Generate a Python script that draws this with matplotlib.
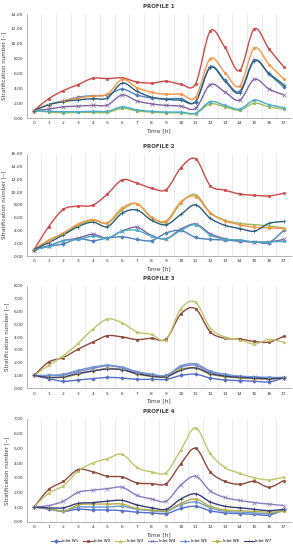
import numpy as np
import matplotlib
matplotlib.use("Agg")
import matplotlib.pyplot as plt
from matplotlib.path import Path
from matplotlib.patches import PathPatch

hours = list(range(18))
series_names = ["Inlet W1", "Inlet W2", "Inlet W3", "Inlet W4", "Inlet W5", "Inlet W6", "Inlet W7"]

# Profile 1
p1_w1 = [1.0, 1.8, 2.3, 2.8, 3.0, 3.1, 3.9, 3.1, 2.7, 2.6, 2.6, 2.2, 6.9, 5.1, 3.6, 7.8, 5.9, 4.2]
p1_w2 = [1.0, 2.6, 3.7, 4.5, 5.35, 5.3, 5.4, 4.85, 4.7, 4.95, 4.55, 4.6, 11.7, 9.5, 6.4, 12.0, 9.3, 6.9]
p1_w3 = [1.0, 0.8, 0.7, 0.75, 0.75, 0.75, 1.3, 0.95, 0.8, 0.7, 0.7, 0.6, 1.9, 1.5, 1.05, 2.0, 1.5, 1.2]
p1_w4 = [1.0, 1.2, 1.5, 1.6, 1.7, 1.75, 3.1, 2.3, 1.9, 1.7, 1.6, 1.3, 4.5, 3.5, 2.4, 5.2, 3.9, 3.1]
p1_w5 = [1.0, 0.9, 0.85, 0.85, 0.9, 0.9, 1.5, 1.1, 0.9, 0.8, 0.8, 0.65, 2.2, 1.7, 1.2, 2.4, 1.8, 1.4]
p1_w6 = [1.0, 1.8, 2.3, 2.7, 2.95, 3.2, 5.2, 4.1, 3.45, 3.2, 3.2, 2.8, 8.0, 6.1, 4.3, 9.4, 7.2, 5.3]
p1_w7 = [1.0, 1.8, 2.2, 2.45, 2.6, 2.7, 4.7, 3.6, 2.8, 2.5, 2.4, 2.2, 6.8, 5.0, 3.4, 7.7, 6.0, 4.5]

# Profile 2
p2_w1 = [1.0, 1.5, 1.9, 2.7, 2.4, 2.8, 3.0, 2.6, 2.4, 3.6, 4.0, 2.9, 2.6, 2.5, 2.3, 2.2, 2.1, 4.0]
p2_w2 = [1.0, 4.6, 7.3, 7.8, 7.95, 9.7, 11.9, 11.4, 10.6, 10.4, 13.8, 15.2, 11.0, 10.3, 9.7, 9.5, 9.4, 9.8]
p2_w3 = [1.0, 2.4, 3.5, 4.8, 5.6, 5.1, 7.2, 8.2, 6.1, 5.3, 8.3, 9.6, 6.8, 5.6, 5.1, 4.9, 4.7, 4.4]
p2_w4 = [1.0, 1.6, 2.4, 2.8, 3.4, 2.8, 3.9, 4.5, 3.2, 2.7, 4.2, 5.0, 3.5, 2.7, 2.4, 2.2, 2.2, 2.6]
p2_w5 = [1.0, 1.5, 2.4, 2.6, 3.1, 2.8, 3.9, 4.0, 3.1, 2.7, 4.0, 4.9, 3.3, 2.6, 2.5, 2.2, 2.2, 2.3]
p2_w6 = [1.0, 2.5, 3.6, 5.0, 5.7, 5.2, 7.5, 8.2, 6.0, 5.5, 8.5, 9.3, 6.7, 5.5, 4.9, 4.5, 4.4, 4.3]
p2_w7 = [1.0, 2.1, 3.3, 4.6, 5.3, 4.6, 6.7, 7.2, 5.6, 4.9, 6.5, 8.0, 5.9, 4.8, 4.3, 3.9, 5.1, 5.4]

# Profile 3
p3_w1 = [1.0, 0.75, 0.55, 0.65, 0.75, 0.85, 0.8, 0.7, 0.7, 0.7, 1.0, 1.1, 0.8, 0.65, 0.6, 0.55, 0.5, 0.8]
p3_w2 = [1.0, 2.05, 2.4, 3.05, 3.6, 4.1, 4.0, 3.8, 3.9, 3.85, 5.8, 6.2, 4.4, 3.9, 3.85, 3.65, 3.6, 4.05]
p3_w3 = [1.0, 1.8, 2.55, 3.5, 4.6, 5.4, 5.1, 4.4, 4.2, 3.8, 6.2, 6.7, 4.7, 4.0, 3.8, 3.45, 3.8, 3.6]
p3_w4 = [1.0, 1.0, 1.05, 1.3, 1.55, 1.75, 1.6, 1.25, 1.05, 1.0, 1.65, 1.8, 1.25, 1.0, 0.9, 0.85, 0.8, 0.8]
p3_w5 = [1.0, 1.0, 1.1, 1.4, 1.65, 1.8, 1.65, 1.3, 1.1, 1.0, 1.75, 1.9, 1.35, 1.1, 0.95, 0.9, 0.85, 0.85]
p3_w6 = [1.0, 0.85, 0.85, 1.1, 1.35, 1.55, 1.45, 1.1, 0.95, 0.9, 1.5, 1.55, 1.1, 0.9, 0.8, 0.75, 0.7, 0.8]
p3_w7 = [1.0, 0.85, 0.9, 1.15, 1.35, 1.5, 1.45, 1.15, 0.95, 0.9, 1.4, 1.6, 1.15, 0.95, 0.85, 0.8, 0.75, 0.8]

# Profile 4
p4_w1 = [1.0, 0.85, 0.7, 0.85, 0.8, 0.8, 0.75, 0.65, 0.6, 0.55, 0.9, 1.05, 0.75, 0.6, 0.55, 0.5, 0.45, 0.8]
p4_w2 = [1.0, 2.2, 2.75, 3.55, 3.4, 3.1, 3.05, 2.65, 2.6, 2.6, 3.95, 5.0, 3.4, 2.75, 2.55, 2.75, 2.35, 2.8]
p4_w3 = [1.0, 1.95, 2.45, 3.45, 4.0, 4.3, 4.6, 3.7, 3.4, 3.35, 4.9, 6.4, 4.65, 3.7, 3.3, 3.0, 2.85, 3.05]
p4_w4 = [1.0, 1.1, 1.4, 2.0, 2.15, 2.25, 2.35, 1.8, 1.55, 1.4, 2.5, 3.1, 2.1, 1.65, 1.45, 1.3, 1.2, 1.1]
p4_w5 = [1.0, 0.9, 0.75, 1.0, 1.0, 1.0, 1.05, 0.85, 0.75, 0.7, 1.15, 1.35, 0.95, 0.7, 0.65, 0.6, 0.55, 0.8]
p4_w6 = [1.0, 0.9, 0.7, 1.15, 1.2, 1.2, 1.2, 0.9, 0.8, 0.75, 1.25, 1.55, 1.05, 0.8, 0.75, 0.7, 0.65, 0.7]
p4_w7 = [1.0, 0.95, 0.95, 1.25, 1.3, 1.4, 1.45, 1.15, 0.95, 0.85, 1.55, 1.9, 1.35, 1.05, 0.95, 0.85, 0.75, 0.85]

profiles = [
    ("PROFILE 1", [p1_w1, p1_w2, p1_w3, p1_w4, p1_w5, p1_w6, p1_w7], 14, 2),
    ("PROFILE 2", [p2_w1, p2_w2, p2_w3, p2_w4, p2_w5, p2_w6, p2_w7], 16, 2),
    ("PROFILE 3", [p3_w1, p3_w2, p3_w3, p3_w4, p3_w5, p3_w6, p3_w7], 8, 1),
    ("PROFILE 4", [p4_w1, p4_w2, p4_w3, p4_w4, p4_w5, p4_w6, p4_w7], 7, 1),
]

colors_a = ["#4F81BD", "#D0484A", "#9BBB59", "#8064A2", "#4BACC6", "#F79646", "#2C5F7A"]
colors_b = ["#5A6FC8", "#8E4A3C", "#BFC66A", "#8C7CC0", "#6A9AD8", "#B8B04A", "#3A3F7A"]
markers = ["D", "s", "^", "x", "*", "o", "+"]

W, H = 293, 550
fig = plt.figure(figsize=(W / 100, H / 100), dpi=100)
fig.patch.set_facecolor("white")

# (top px, bottom px) of each plot area
boxes = [(14.0, 118.0), (153.7, 256.0), (285.7, 388.3), (419.0, 521.7)]
left_px, right_px = 26.7, 291.0


def smooth_path(x, y):
    pts = np.column_stack([x, y]).astype(float)
    n = len(pts)
    verts = [pts[0]]
    codes = [Path.MOVETO]
    for i in range(n - 1):
        p0 = pts[i - 1] if i > 0 else pts[i]
        p1 = pts[i]
        p2 = pts[i + 1]
        p3 = pts[i + 2] if i + 2 < n else pts[i + 1]
        c1 = p1 + (p2 - p0) / 6.0
        c2 = p2 - (p3 - p1) / 6.0
        verts += [c1, c2, p2]
        codes += [Path.CURVE4] * 3
    return Path(verts, codes)


legend_handles = []
for pi, (title, data, ymax, ystep) in enumerate(profiles):
    top, bot = boxes[pi]
    ax = fig.add_axes([left_px / W, 1 - bot / H, (right_px - left_px) / W, (bot - top) / H])
    cols = colors_a if pi < 2 else colors_b
    for si, ys in enumerate(data):
        patch = PathPatch(smooth_path(hours, ys), facecolor="none", edgecolor=cols[si],
                          lw=1.0, zorder=3)
        ax.add_patch(patch)
        ms = 1.8 if markers[si] not in ("x", "+", "*") else 2.4
        h, = ax.plot(hours, ys, linestyle="none", color=cols[si], marker=markers[si],
                     markersize=ms, markeredgewidth=0.5, zorder=4, label=series_names[si])
        if pi == 3:
            legend_handles.append(h)
    ax.set_xlim(-0.5, 17.5)
    ax.set_ylim(0, ymax)
    ax.set_xticks(hours)
    ax.set_xticklabels([str(h) for h in hours])
    ax.set_xticks(np.arange(0.5, 17.5, 1), minor=True)
    ax.set_yticks(np.arange(0, ymax + 0.001, ystep))
    ax.set_yticklabels([f"{v:.2f}" for v in np.arange(0, ymax + 0.001, ystep)])
    ax.grid(True, which="minor", axis="x", color="#E3E3E3", lw=0.5)
    ax.grid(False, which="major")
    ax.tick_params(axis="both", which="both", length=0, labelsize=3.2, pad=2.5, colors="#333333")
    for s in ["top", "right"]:
        ax.spines[s].set_visible(False)
    for s in ["left", "bottom"]:
        ax.spines[s].set_color("#A6A6A6")
        ax.spines[s].set_linewidth(0.6)
    ax.set_ylabel("Stratification number [‒]", fontsize=4.0, color="#404040", labelpad=3)
    ax.set_xlabel("Time [h]", fontsize=4.2, color="#404040", labelpad=2)
    ax.set_title(title, fontsize=4.0, fontweight="bold", color="#404040", pad=4)

fig.legend(handles=[plt.Line2D([0], [0], color=h.get_color(), lw=0.8, marker=h.get_marker(),
                               markersize=2.0, markeredgewidth=0.5) for h in legend_handles],
           labels=series_names, loc="center", bbox_to_anchor=(0.55, 1 - 541 / H), ncol=7,
           fontsize=2.8, frameon=False, handlelength=2.5, columnspacing=1.2, handletextpad=0.4)

fig.savefig("out.png", dpi=100, facecolor="white")
